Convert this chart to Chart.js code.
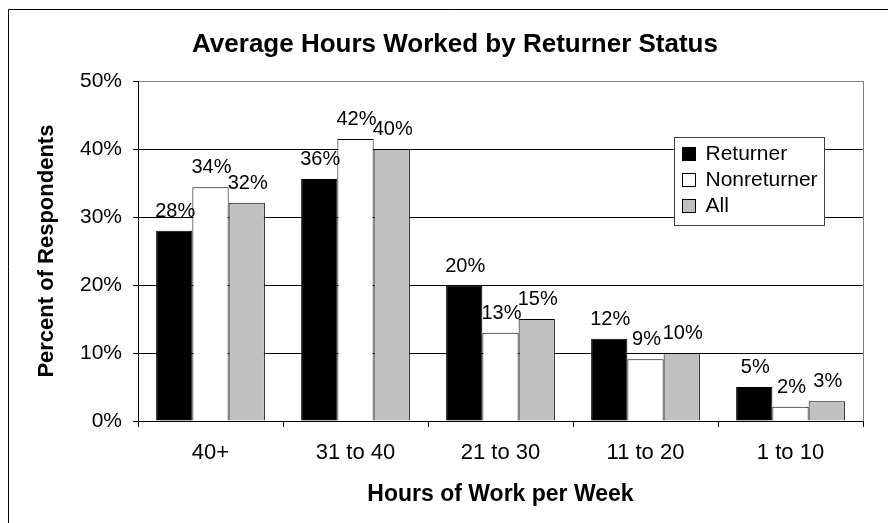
<!DOCTYPE html>
<html>
<head>
<meta charset="utf-8">
<script src="https://cdn.jsdelivr.net/npm/chart.js@4.4.0/dist/chart.umd.min.js"></script>
<style>
  html, body { margin: 0; padding: 0; background: #fff; }
  #wrap { position: relative; width: 888px; height: 523px; }
</style>
</head>
<body>
<div id="wrap"><canvas id="myChart" width="888" height="523"></canvas></div>
<script>
var categories = ["40+", "31 to 40", "21 to 30", "11 to 20", "1 to 10"];
var returner = [28, 35.6, 19.9, 12.1, 5];
var nonreturner = [34.4, 41.5, 13, 9.1, 2.1];
var allResp = [32.1, 40, 15, 10, 2.9];
var seriesNames = ["Returner", "Nonreturner", "All"];
var yTickValues = [0, 10, 20, 30, 40, 50];

var FONT = '"Liberation Sans", Arial, sans-serif';

// outer frame (only left/top visible in the picture)
var frame = {
    id: 'frame',
    beforeDraw: function (chart) {
        var ctx = chart.ctx;
        ctx.save();
        ctx.fillStyle = '#fff';
        ctx.fillRect(0, 0, chart.width, chart.height);
        ctx.strokeStyle = '#000';
        ctx.lineWidth = 1;
        ctx.beginPath();
        ctx.moveTo(8.5, chart.height);
        ctx.lineTo(8.5, 9.5);
        ctx.lineTo(chart.width, 9.5);
        ctx.stroke();
        ctx.restore();
    },
    beforeDatasetsDraw: function (chart) {
        // gray plot area border on the right
        var a = chart.chartArea, ctx = chart.ctx;
        ctx.save();
        ctx.strokeStyle = '#808080';
        ctx.lineWidth = 1;
        ctx.beginPath();
        ctx.moveTo(Math.round(a.right) + 0.5, a.top);
        ctx.lineTo(Math.round(a.right) + 0.5, a.bottom);
        ctx.stroke();
        ctx.restore();
    }
};

var barLabels = {
    id: 'barLabels',
    afterDatasetsDraw: function (chart) {
        var ctx = chart.ctx;
        ctx.save();
        ctx.font = '20px ' + FONT;
        ctx.fillStyle = '#000';
        ctx.textAlign = 'center';
        ctx.textBaseline = 'alphabetic';
        chart.data.datasets.forEach(function (ds, i) {
            chart.getDatasetMeta(i).data.forEach(function (bar, j) {
                ctx.fillText(Math.round(ds.data[j]) + '%', bar.x + 1, bar.y - 14);
            });
        });
        ctx.restore();
    }
};

var boxLegend = {
    id: 'boxLegend',
    afterDraw: function (chart) {
        var ctx = chart.ctx, a = chart.chartArea;
        var x = Math.round(a.right - 189) + 0.5, y = Math.round(a.top + 56) + 0.5;
        var w = 150, h = 88;
        ctx.save();
        ctx.fillStyle = '#fff';
        ctx.fillRect(x, y, w, h);
        ctx.strokeStyle = '#404040';
        ctx.lineWidth = 1;
        ctx.strokeRect(x, y, w, h);
        ctx.font = '21px ' + FONT;
        ctx.textAlign = 'left';
        ctx.textBaseline = 'middle';
        chart.data.datasets.forEach(function (ds, i) {
            var cy = y + 16 + i * 26;
            ctx.fillStyle = ds.backgroundColor;
            ctx.fillRect(x + 8, cy - 6, 13, 13);
            ctx.strokeStyle = '#000';
            ctx.strokeRect(x + 8, cy - 6, 13, 13);
            ctx.fillStyle = '#000';
            ctx.fillText(ds.label, x + 31, cy + 1);
        });
        ctx.restore();
    }
};

var ctx = document.getElementById('myChart').getContext('2d');
var myChart = new Chart(ctx, {
    type: 'bar',
    data: {
        labels: categories,
        datasets: [
            { label: seriesNames[0], data: returner, backgroundColor: '#000000' },
            { label: seriesNames[1], data: nonreturner, backgroundColor: '#ffffff' },
            { label: seriesNames[2], data: allResp, backgroundColor: '#c0c0c0' }
        ].map(function (d) {
            d.borderColor = '#000';
            d.borderWidth = 1;
            d.barPercentage = 1.0;
            d.categoryPercentage = 0.75;
            return d;
        })
    },
    options: {
        responsive: false,
        animation: false,
        devicePixelRatio: 1,
        // left padding shifts the title centre to match the framed original
        layout: { padding: { left: 47, right: 25, top: 0, bottom: 0 } },
        plugins: {
            legend: { display: false },
            tooltip: { enabled: false },
            title: {
                display: true,
                text: 'Average Hours Worked by Returner Status',
                color: '#000',
                font: { family: FONT, size: 26, weight: 'bold' },
                padding: { top: 29, bottom: 21 }
            }
        },
        scales: {
            x: {
                afterFit: function (s) { s.height = 102; },
                grid: {
                    display: true,
                    drawOnChartArea: false,
                    drawTicks: true,
                    tickLength: 6,
                    color: '#000',
                    offset: true
                },
                border: { display: true, color: '#000', width: 1 },
                ticks: {
                    color: '#000',
                    padding: 13,
                    font: { family: FONT, size: 22 }
                },
                title: {
                    display: true,
                    text: 'Hours of Work per Week',
                    color: '#000',
                    font: { family: FONT, size: 23, weight: 'bold' },
                    padding: { top: 0, bottom: 15 }
                }
            },
            y: {
                min: 0,
                max: 50,
                afterFit: function (s) { s.width = 91; },
                afterBuildTicks: function (s) {
                    s.ticks = yTickValues.map(function (v) { return { value: v }; });
                },
                grid: {
                    color: function (c) { return c.tick && c.tick.value === 50 ? '#808080' : '#000'; },
                    tickColor: '#000',
                    tickLength: 5,
                    lineWidth: 1
                },
                border: { display: true, color: '#000', width: 1 },
                ticks: {
                    color: '#000',
                    padding: 11,
                    font: { family: FONT, size: 21 },
                    callback: function (v) { return v + '%'; }
                },
                title: {
                    display: true,
                    text: 'Percent of Respondents',
                    color: '#000',
                    font: { family: FONT, size: 22, weight: 'bold' },
                    padding: { top: -13, bottom: 0 }
                }
            }
        }
    },
    plugins: [frame, barLabels, boxLegend]
});
</script>
</body>
</html>
